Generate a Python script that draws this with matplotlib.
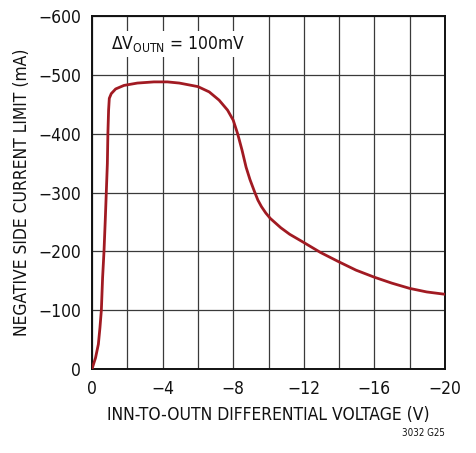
import matplotlib
matplotlib.use("Agg")
import matplotlib.pyplot as plt

# curva: tensión diferencial INN-OUTN (V) vs límite de corriente (mA)
volts = [0, -0.2, -0.36, -0.45, -0.53, -0.6, -0.68, -0.75, -0.81, -0.87, -0.9, -0.94,
         -0.98, -1.09, -1.34, -1.81, -2.57, -3.51, -4.27, -4.95, -6.0, -6.64, -7.2,
         -7.68, -8.0, -8.25, -8.5, -8.73, -8.95, -9.2, -9.4, -9.6, -9.85, -10.1,
         -10.4, -10.7, -11.2, -12.0, -12.95, -14.0, -14.96, -16.0, -16.98, -18.0,
         -18.96, -20.0]
corriente = [0, -19, -42, -70, -100, -155, -200, -252, -300, -349, -400, -440,
             -460, -468, -476, -482, -486, -488, -488, -486, -480, -471, -457,
             -440, -423, -400, -372, -343, -322, -302, -287, -276, -265, -256,
             -248, -240, -229, -215, -198, -182, -168, -156, -146, -137,
             -131, -127]

xticks = [0, -2, -4, -6, -8, -10, -12, -14, -16, -18, -20]
xlabels = ["0", "", "\u22124", "", "\u22128", "", "\u221212", "", "\u221216", "", "\u221220"]
yticks = [0, -100, -200, -300, -400, -500, -600]
ylabels = ["0", "\u2212100", "\u2212200", "\u2212300", "\u2212400", "\u2212500", "\u2212600"]

# fuente estrecha, parecida a la Helvetica Condensed del original
FAM = ["DejaVu Sans Condensed", "DejaVu Sans"]
plt.rcParams["font.family"] = FAM
plt.rcParams["font.stretch"] = "condensed"
plt.rcParams["mathtext.fontset"] = "custom"
plt.rcParams["mathtext.rm"] = "DejaVu Sans:stretch=condensed"
plt.rcParams["mathtext.it"] = "DejaVu Sans:stretch=condensed"

fig = plt.figure(figsize=(4.76, 4.53), dpi=100)
ax = fig.add_axes([92 / 476, 1 - 369 / 453, (445 - 92) / 476, (369 - 16) / 453])

ax.plot(volts, corriente, color="#a11a22", linewidth=2.0, solid_capstyle="round",
        solid_joinstyle="round", zorder=3)

ax.set_xlim(0, -20)
ax.set_ylim(0, -600)
ax.set_xticks(xticks)
ax.set_xticklabels(xlabels)
ax.set_yticks(yticks)
ax.set_yticklabels(ylabels)
ax.tick_params(length=0, labelsize=12.5, pad=8, colors="#111111")
ax.grid(True, color="#3a3a3a", linewidth=0.9)
for s in ax.spines.values():
    s.set_linewidth(1.4)
    s.set_color("#111111")

ax.set_xlabel("INN-TO-OUTN DIFFERENTIAL VOLTAGE (V)", fontsize=12.5, labelpad=6, color="#111111")
ax.set_ylabel("NEGATIVE SIDE CURRENT LIMIT (mA)", fontsize=12.5, labelpad=5, color="#111111")

ax.text(-1.1, -552, r"$\Delta$V$_{\mathrm{OUTN}}$ = 100mV", fontsize=12.5, va="center",
        ha="left", color="#111111",
        bbox=dict(facecolor="white", edgecolor="none", pad=2))

fig.text(445 / 476, 1 - 433 / 453, "3032 G25", fontsize=7, ha="right", va="center", color="#111111")

fig.savefig("out.png", dpi=100)
